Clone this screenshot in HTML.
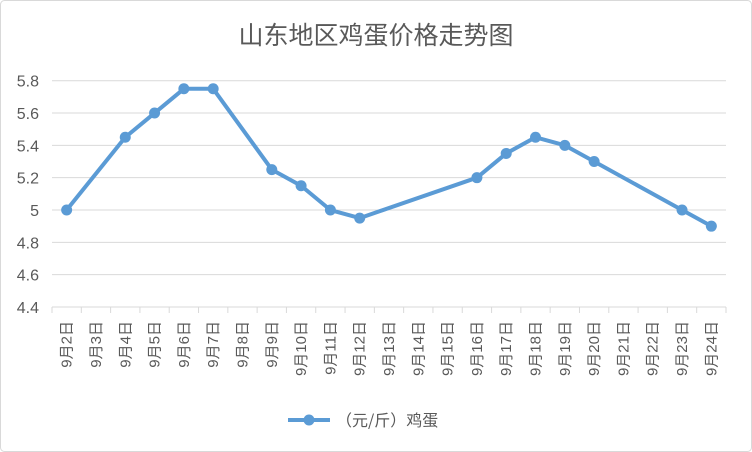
<!DOCTYPE html>
<html><head><meta charset="utf-8">
<style>
html,body{margin:0;padding:0;background:#fff;}
svg{display:block;font-family:"Liberation Sans","Noto Sans CJK SC",sans-serif;}
</style></head>
<body>
<svg id="chart" width="752" height="452" viewBox="0 0 752 452">
  <rect x="0.5" y="0.5" width="751" height="451" rx="4" fill="#fff" stroke="#d9d9d9"/>
  <text x="376" y="44" text-anchor="middle" font-size="25" fill="#595959" font-family="'Noto Sans CJK SC',sans-serif">山东地区鸡蛋价格走势图</text>
  <g id="grid"></g>
  <g id="yticks"></g>
  <g id="xaxis"></g>
  <g id="series"></g>
  <g>
    <line x1="288" y1="420" x2="330" y2="420" stroke="#5b9bd5" stroke-width="4"/>
    <circle cx="309" cy="420" r="5.5" fill="#5b9bd5"/>
    <text x="336" y="426" font-size="16" fill="#595959" font-family="'Noto Sans CJK SC',sans-serif">（元/斤）鸡蛋</text>
  </g>
</svg>
<script>
const categories = ["9月2日","9月3日","9月4日","9月5日","9月6日","9月7日","9月8日","9月9日","9月10日","9月11日","9月12日","9月13日","9月14日","9月15日","9月16日","9月17日","9月18日","9月19日","9月20日","9月21日","9月22日","9月23日","9月24日"];
const prices = [5.0,null,5.45,5.6,5.75,5.75,null,5.25,5.15,5.0,4.95,null,null,null,5.2,5.35,5.45,5.4,5.3,null,null,5.0,4.9];
const yTicks = [4.4,4.6,4.8,5.0,5.2,5.4,5.6,5.8];
const yTickLabels = ["4.4","4.6","4.8","5","5.2","5.4","5.6","5.8"];

const NS="http://www.w3.org/2000/svg";
const plotLeft=52, plotRight=726, plotTop=80.7, plotBottom=307;
const yMin=4.4, yMax=5.8;
const bw=(plotRight-plotLeft)/categories.length;
function xScale(i){return plotLeft+bw*(i+0.5);}
function yScale(v){return plotBottom-(v-yMin)/(yMax-yMin)*(plotBottom-plotTop);}
function mk(tag,attrs,parent){const e=document.createElementNS(NS,tag);for(const k in attrs)e.setAttribute(k,attrs[k]);parent.appendChild(e);return e;}

const grid=document.getElementById('grid'), yt=document.getElementById('yticks'), xa=document.getElementById('xaxis'), sg=document.getElementById('series');
yTicks.forEach((v,i)=>{
  const y=yScale(v);
  if(i>0){
    const l=mk('line',{x1:plotLeft,x2:plotRight,y1:y,y2:y,stroke:'#d9d9d9','stroke-width':1},grid);
    
    
  }
  const t=mk('text',{x:39,y:y+6,'text-anchor':'end','font-size':16,fill:'#595959'},yt);
  t.textContent=yTickLabels[i];
  
  
});
const ax=mk('line',{x1:plotLeft,x2:plotRight,y1:plotBottom,y2:plotBottom,stroke:'#d9d9d9','stroke-width':1},xa);


for(let i=0;i<=categories.length;i++){
  const x=plotLeft+bw*i;
  const tk=mk('line',{x1:x,x2:x,y1:plotBottom,y2:plotBottom+6,stroke:'#d9d9d9','stroke-width':1},xa);
  
  
}
categories.forEach((c,i)=>{
  const x=xScale(i)+5, y=321;
  const t=mk('text',{x:x,y:y,'text-anchor':'end','font-size':15,fill:'#595959',transform:`rotate(-90 ${x} ${y})`},xa);
  t.textContent=c;
  
  
});
const pts=[];
prices.forEach((v,i)=>{if(v!==null)pts.push([xScale(i),yScale(v)]);});
const pl=mk('polyline',{points:pts.map(p=>p.join(',')).join(' '),fill:'none',stroke:'#5b9bd5','stroke-width':4,'stroke-linejoin':'round','stroke-linecap':'round'},sg);


pts.forEach(p=>{
  const c=mk('circle',{cx:p[0],cy:p[1],r:5.5,fill:'#5b9bd5'},sg);
  
  
});
</script>
</body></html>
